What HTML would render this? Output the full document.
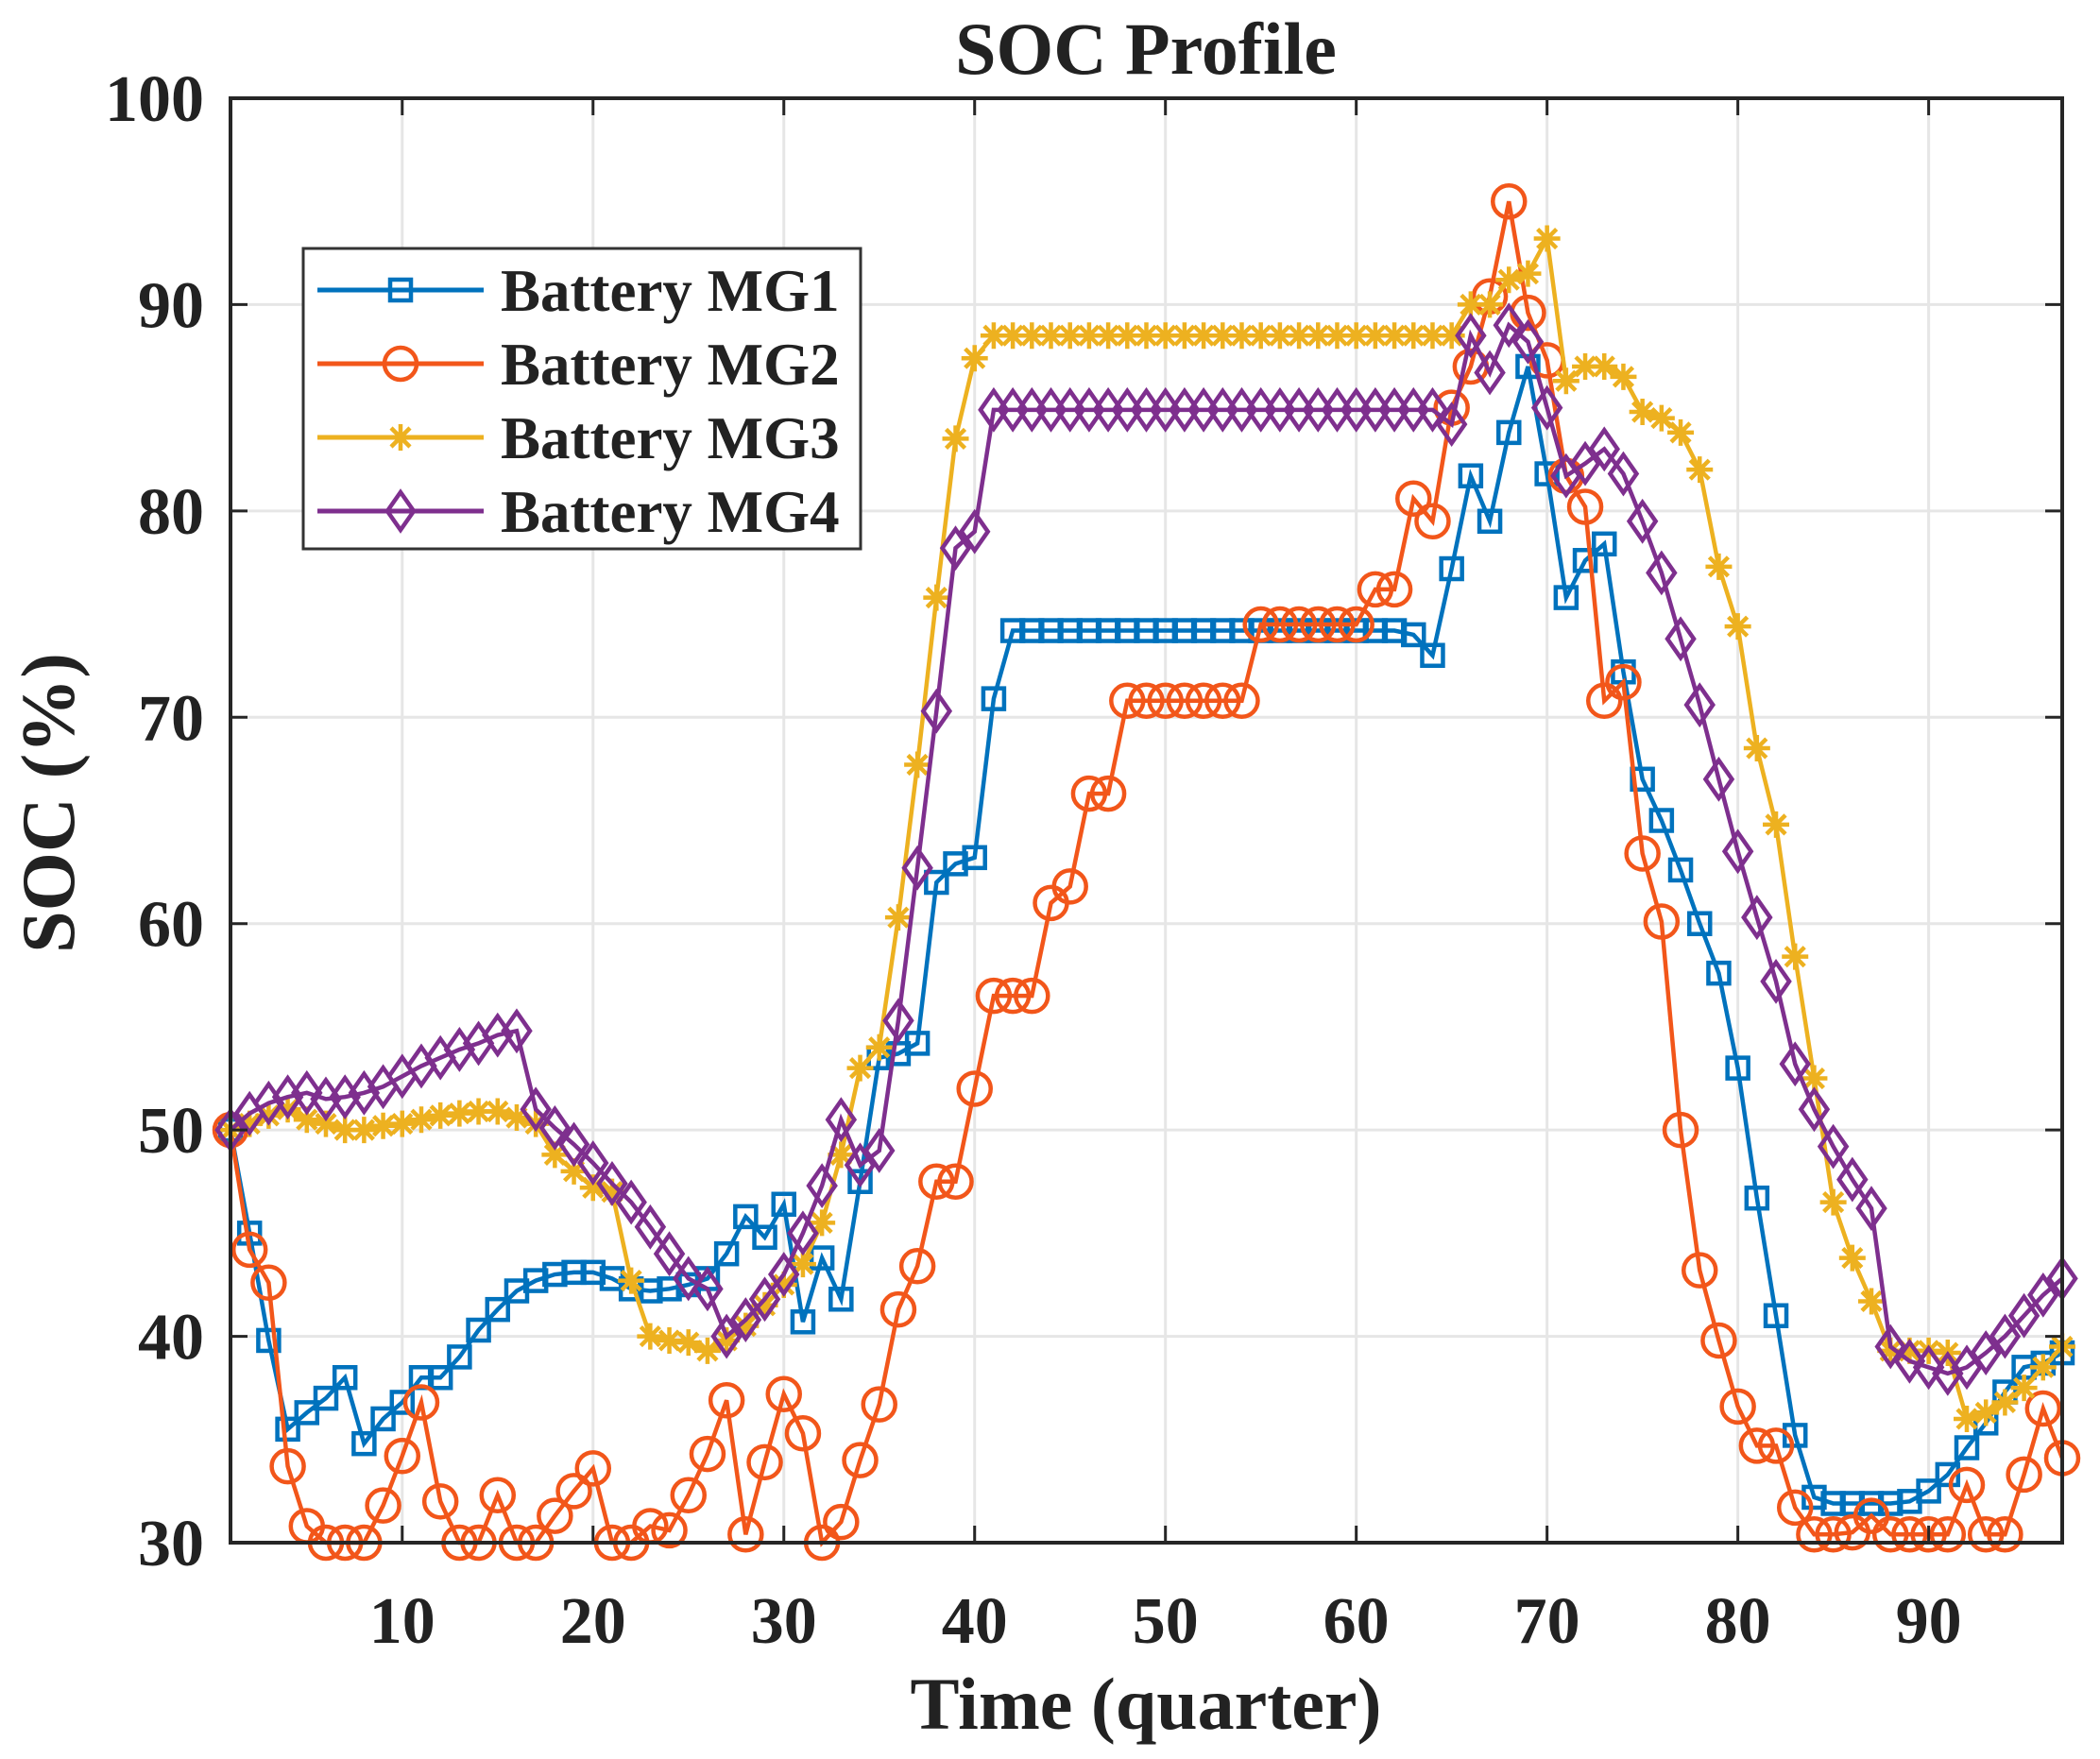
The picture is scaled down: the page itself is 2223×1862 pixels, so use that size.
<!DOCTYPE html>
<html><head><meta charset="utf-8"><style>
html,body{margin:0;padding:0;background:#fff;}
svg{display:block;font-family:"Liberation Serif",serif;font-weight:bold;}
</style></head><body>
<svg id="chart" width="2223" height="1862" viewBox="0 0 2223 1862" xmlns="http://www.w3.org/2000/svg">
<text x="1213" y="78" font-size="78" text-anchor="middle" fill="#222">SOC Profile</text>
<text x="1213" y="1830" font-size="78" text-anchor="middle" fill="#222">Time (quarter)</text>
<text transform="translate(78,850) rotate(-90)" font-size="80" text-anchor="middle" fill="#222">SOC (%)</text>
<g id="grid"></g>
<g id="series"></g>
<rect x="244" y="104" width="1939" height="1529" fill="none" stroke="#262626" stroke-width="4"/>
<g id="ticks"></g>
<g id="legend"></g>
</svg>
<script>
const times = Array.from({length:97},(_, i)=>i+1);
const xTicks = [10,20,30,40,50,60,70,80,90];
const yTicks = [30,40,50,60,70,80,90,100];
const seriesNames = ["Battery MG1","Battery MG2","Battery MG3","Battery MG4"];
const mg1 = [50,45,39.8,35.5,36.3,37,38,34.8,36,36.8,38,38,39,40.3,41.3,42.2,42.7,43,43.1,43.1,42.8,42.3,42.2,42.3,42.5,42.8,44,45.8,44.8,46.4,40.7,43.8,41.8,47.5,53.5,53.7,54.2,62,62.9,63.2,70.9,74.2,74.2,74.2,74.2,74.2,74.2,74.2,74.2,74.2,74.2,74.2,74.2,74.2,74.2,74.2,74.2,74.2,74.2,74.2,74.2,74.2,74,73,77.2,81.7,79.5,83.8,87,81.8,75.8,77.6,78.4,72.2,67,65,62.6,60,57.6,53,46.7,41,35.2,32.2,31.9,31.9,31.9,31.9,32,32.5,33.3,34.6,35.8,37.3,38.5,38.7,39.2];
const mg2 = [50,44.2,42.6,33.7,30.8,30,30,30,31.8,34.2,36.8,32,30,30,32.3,30,30,31.3,32.5,33.6,30,30,30.8,30.6,32.3,34.3,36.9,30.4,33.9,37.2,35.3,30,31,34,36.7,41.3,43.4,47.5,47.5,52,56.5,56.5,56.5,61,61.8,66.3,66.3,70.8,70.8,70.8,70.8,70.8,70.8,70.8,74.5,74.5,74.5,74.5,74.5,74.5,76.2,76.2,80.6,79.5,85,87,90.4,95,89.6,87.3,81.7,80.2,70.8,71.7,63.4,60.1,50,43.2,39.8,36.6,34.7,34.7,31.7,30.4,30.4,30.5,31.3,30.4,30.4,30.4,30.4,32.8,30.4,30.4,33.3,36.5,34.1];
const mg3 = [50,50.3,50.7,51,50.5,50.3,50,50,50.2,50.3,50.5,50.7,50.8,50.9,50.9,50.6,50.3,48.8,48,47.2,47,42.7,40,39.8,39.7,39.3,39.8,40.5,41.5,42.5,43.5,45.5,48.8,53,54,60.3,67.7,75.8,83.5,87.4,88.5,88.5,88.5,88.5,88.5,88.5,88.5,88.5,88.5,88.5,88.5,88.5,88.5,88.5,88.5,88.5,88.5,88.5,88.5,88.5,88.5,88.5,88.5,88.5,88.5,90,90,91.2,91.5,93.2,86.3,87,87,86.5,84.8,84.5,83.8,82,77.3,74.4,68.5,64.8,58.4,52.5,46.5,43.8,41.7,39.3,39.3,39.3,39.2,36,36.3,36.8,37.5,38.5,39.5];
const mg4 = [50,50.8,51.3,51.6,51.8,51.5,51.6,51.8,52.1,52.6,53.1,53.5,53.9,54.2,54.6,54.8,51,50.1,49.3,48.4,47.4,46.5,45.3,44,42.8,42.3,40,40.8,41.8,43,45,47.3,50.5,48.3,49,55.3,62.7,70.3,78.2,79,84.9,84.9,84.9,84.9,84.9,84.9,84.9,84.9,84.9,84.9,84.9,84.9,84.9,84.9,84.9,84.9,84.9,84.9,84.9,84.9,84.9,84.9,84.9,84.9,84.2,88.5,86.7,89,88.2,85,81.7,82.3,83,81.8,79.5,77,73.8,70.6,67,63.5,60.3,57.2,53.2,51,49.2,47.6,46.2,39.5,38.8,38.5,38.2,38.5,39.2,40,41,42,42.8];

const NS="http://www.w3.org/2000/svg";
const X0=244,X1=2183,Y0=1633,Y1=104;
const xs=t=>X0+(t-1)*(X1-X0)/96;
const ys=v=>Y0-(v-30)*(Y0-Y1)/70;
function mk(tag,attrs,parent){const e=document.createElementNS(NS,tag);for(const k in attrs)e.setAttribute(k,attrs[k]);parent.appendChild(e);return e;}
const grid=document.getElementById('grid'),ticks=document.getElementById('ticks'),ser=document.getElementById('series'),leg=document.getElementById('legend');
xTicks.forEach(t=>{
  const g=mk('line',{x1:xs(t),x2:xs(t),y1:Y1,y2:Y0,stroke:'#e6e6e6','stroke-width':3},grid);
  
  
  const tk=mk('line',{x1:xs(t),x2:xs(t),y1:Y0,y2:Y0-18,stroke:'#262626','stroke-width':3},ticks);
  
  
  const tk2=mk('line',{x1:xs(t),x2:xs(t),y1:Y1,y2:Y1+18,stroke:'#262626','stroke-width':3},ticks);
  
  
  const lb=mk('text',{x:xs(t),y:Y0+106,'font-size':70,'text-anchor':'middle',fill:'#222'},ticks);
  lb.textContent=t;
  
  
});
yTicks.forEach(v=>{
  const g=mk('line',{x1:X0,x2:X1,y1:ys(v),y2:ys(v),stroke:'#e6e6e6','stroke-width':3},grid);
  
  
  const tk=mk('line',{x1:X0,x2:X0+18,y1:ys(v),y2:ys(v),stroke:'#262626','stroke-width':3},ticks);
  
  
  const tk2=mk('line',{x1:X1,x2:X1-18,y1:ys(v),y2:ys(v),stroke:'#262626','stroke-width':3},ticks);
  
  
  const lb=mk('text',{x:X0-28,y:ys(v)+24,'font-size':70,'text-anchor':'end',fill:'#222'},ticks);
  lb.textContent=v;
  
  
});
const colors=['#0072BD','#F2561A','#EDB120','#7E2F8E'];
const markers=['square','circle','star','diamond'];
function marker(type,x,y,c,parent){
  let e;
  if(type==='square')e=mk('rect',{x:x-11,y:y-11,width:22,height:22,fill:'none',stroke:c,'stroke-width':4.5},parent);
  else if(type==='circle')e=mk('circle',{cx:x,cy:y,r:17,fill:'none',stroke:c,'stroke-width':4.5},parent);
  else if(type==='diamond')e=mk('path',{d:`M${x},${y-20}L${x+14},${y}L${x},${y+20}L${x-14},${y}Z`,fill:'none',stroke:c,'stroke-width':4.5},parent);
  else e=mk('path',{d:`M${x-14},${y}H${x+14}M${x},${y-14}V${y+14}M${x-10},${y-10}L${x+10},${y+10}M${x-10},${y+10}L${x+10},${y-10}`,stroke:c,'stroke-width':4.5},parent);
  return e;
}
[mg1,mg2,mg3,mg4].forEach((arr,i)=>{
  const g=mk('g',{},ser);
  
  
  const pl=mk('polyline',{points:arr.map((v,j)=>xs(times[j])+','+ys(v)).join(' '),fill:'none',stroke:colors[i],'stroke-width':4.5},g);
  
  
  arr.forEach((v,j)=>{
    const m=marker(markers[i],xs(times[j]),ys(v),colors[i],g);
    
    
  });
});
const box=mk('rect',{x:321,y:263,width:590,height:318,fill:'#fff',stroke:'#333','stroke-width':3},leg);


seriesNames.forEach((n,i)=>{
  const y=307+i*78;
  const g=mk('g',{},leg);
  
  
  mk('line',{x1:336,x2:512,y1:y,y2:y,stroke:colors[i],'stroke-width':5},g);
  marker(markers[i],424,y,colors[i],g);
  const t=mk('text',{x:530,y:y+22,'font-size':63,fill:'#222'},g);
  t.textContent=n;
});
</script>
</body></html>
